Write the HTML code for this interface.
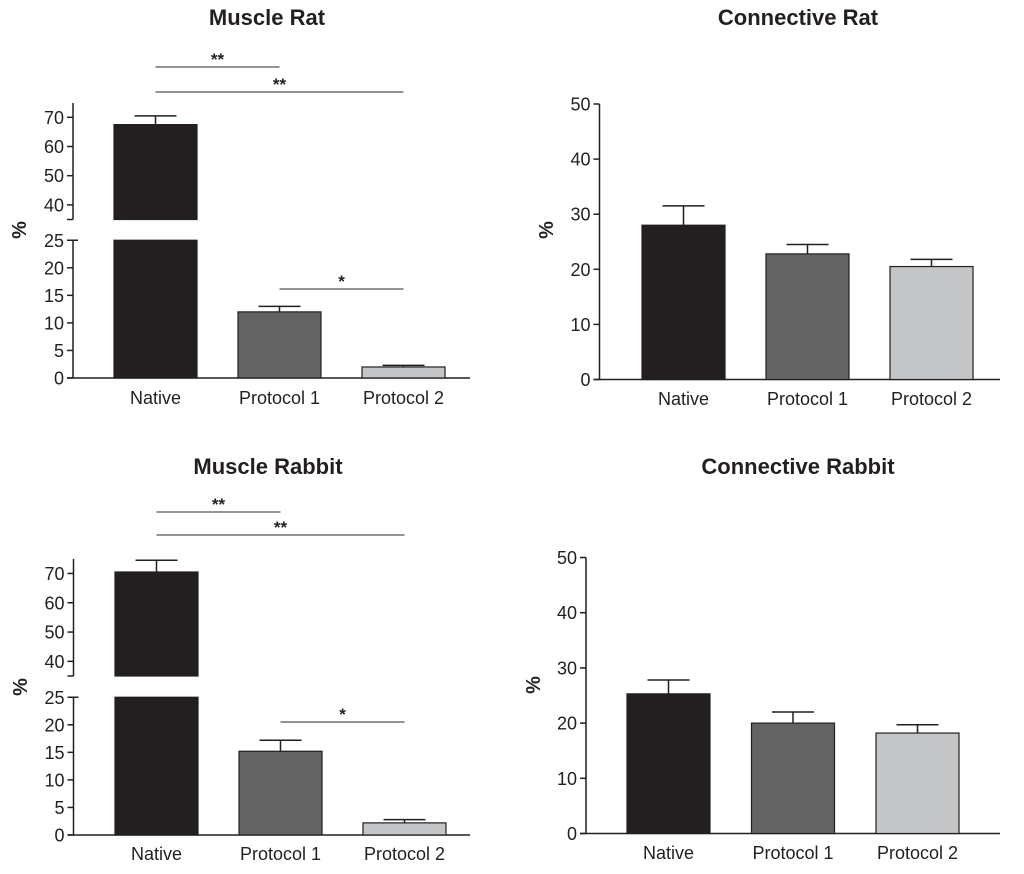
<!DOCTYPE html>
<html><head><meta charset="utf-8"><style>
html,body{margin:0;padding:0;background:#fff;}
svg{display:block;font-family:"Liberation Sans",sans-serif;}
</style></head><body>
<svg id="chart" width="1024" height="874" viewBox="0 0 1024 874" xmlns="http://www.w3.org/2000/svg"></svg>
<script>
const categories = ["Native", "Protocol 1", "Protocol 2"];
const colors = ["#231f20", "#636363", "#c3c5c7"];
const muscleRatValues = [67.5, 12, 2];
const muscleRatErrors = [3, 1, 0.3];
const connRatValues = [28, 22.8, 20.5];
const connRatErrors = [3.5, 1.7, 1.3];
const muscleRabbitValues = [70.5, 15.2, 2.2];
const muscleRabbitErrors = [4, 2, 0.6];
const connRabbitValues = [25.3, 20, 18.2];
const connRabbitErrors = [2.5, 2, 1.5];
const brokenUpperTicks = [40, 50, 60, 70];
const brokenLowerTicks = [0, 5, 10, 15, 20, 25];
const linearTicks = [0, 10, 20, 30, 40, 50];
const sigLabels = ["**", "**", "*"];

const NS = "http://www.w3.org/2000/svg";
const svg = document.getElementById("chart");
function mk(tag, attrs, parent, text) {
  const e = document.createElementNS(NS, tag);
  for (const k in attrs) e.setAttribute(k, attrs[k]);
  if (text !== undefined) e.textContent = text;
  (parent || svg).appendChild(e);
  return e;
}

function panel(cfg) {
  const g = mk("g", {});
  
  
  const t = mk("text", {x: cfg.titleX, y: cfg.titleY, "text-anchor": "middle", "font-size": 22, "font-weight": "bold", fill: "#231f20"}, g, cfg.title);
  
  
  const ax = cfg.axisX;
  const xPos = i => cfg.firstCenter + i * cfg.step;
  let yScale;
  if (cfg.broken) {
    yScale = v => v >= 30 ? cfg.upper0 - (v - 35) * cfg.upperPx : cfg.zeroY - v * cfg.lowerPx;
  } else {
    yScale = v => cfg.zeroY - v * cfg.px;
  }
  const axes = mk("g", {stroke: "#231f20", "stroke-width": 1.5, fill: "none"}, g);
  
  
  if (cfg.broken) {
    mk("line", {x1: ax, y1: cfg.upperTop, x2: ax, y2: cfg.upper0}, axes);
    mk("line", {x1: ax - 6, y1: cfg.upper0, x2: ax, y2: cfg.upper0}, axes);
    mk("line", {x1: ax, y1: yScale(25), x2: ax, y2: cfg.zeroY}, axes);
    mk("line", {x1: ax, y1: yScale(25), x2: ax + 5, y2: yScale(25)}, axes);
  } else {
    mk("line", {x1: ax, y1: yScale(50), x2: ax, y2: cfg.zeroY}, axes);
  }
  const xa = mk("line", {x1: ax - 6, y1: cfg.zeroY, x2: cfg.axisEnd, y2: cfg.zeroY, stroke: "#231f20", "stroke-width": 1.5}, g);
  
  
  const ticks = cfg.broken ? brokenUpperTicks.concat(brokenLowerTicks) : linearTicks;
  ticks.forEach(v => {
    const y = yScale(v);
    mk("line", {x1: ax - 6, y1: y, x2: ax, y2: y, stroke: "#231f20", "stroke-width": 1.5}, g);
    const tl = mk("text", {x: ax - 9, y: y + 6.5, "text-anchor": "end", "font-size": 18, fill: "#231f20"}, g, String(v));
    
    
  });
  const yl = mk("text", {x: 0, y: 0, transform: `translate(${cfg.ylabX},${cfg.ylabY}) rotate(-90)`, "text-anchor": "middle", "font-size": 20, "font-weight": "bold", fill: "#231f20"}, g, "%");
  
  
  const bw = 83;
  cfg.values.forEach((v, i) => {
    const cx = xPos(i);
    const err = v + cfg.errors[i];
    const ey = yScale(err);
    const eb = mk("g", {stroke: "#231f20", "stroke-width": 1.5}, g);
    
    
    mk("line", {x1: cx, y1: ey, x2: cx, y2: yScale(v)}, eb);
    mk("line", {x1: cx - 21, y1: ey, x2: cx + 21, y2: ey}, eb);
    if (cfg.broken && v > 30) {
      const b1 = mk("rect", {x: cx - bw / 2, y: yScale(v), width: bw, height: cfg.upper0 - yScale(v), fill: colors[i], stroke: "#231f20", "stroke-width": 1.2}, g);
      
      
      const b2 = mk("rect", {x: cx - bw / 2, y: yScale(25), width: bw, height: cfg.zeroY - yScale(25), fill: colors[i], stroke: "#231f20", "stroke-width": 1.2}, g);
      
      
    } else {
      const b = mk("rect", {x: cx - bw / 2, y: yScale(v), width: bw, height: cfg.zeroY - yScale(v), fill: colors[i], stroke: "#231f20", "stroke-width": 1.2}, g);
      
      
    }
    const cl = mk("text", {x: cx, y: cfg.labY, "text-anchor": "middle", "font-size": 18, fill: "#231f20"}, g, categories[i]);
    
    
  });
  if (cfg.sig) {
    cfg.sig.forEach((s, k) => {
      const x1 = xPos(s[0]), x2 = xPos(s[1]);
      const l = mk("line", {x1: x1, y1: s[2], x2: x2, y2: s[2], stroke: "#555", "stroke-width": 1.2}, g);
      
      
      const st = mk("text", {x: (x1 + x2) / 2, y: s[2] - 2, "text-anchor": "middle", "font-size": 17, "font-weight": "bold", fill: "#231f20"}, g, sigLabels[k]);
      
      
    });
  }
}

panel({name: "muscle-rat-panel", title: "Muscle Rat", titleX: 267, titleY: 25, broken: true,
  axisX: 73, upperTop: 103, upper0: 219.5, upperPx: 2.92, zeroY: 378, lowerPx: 5.51,
  firstCenter: 155.5, step: 124, axisEnd: 470, values: muscleRatValues, errors: muscleRatErrors,
  ylabX: 26, ylabY: 230, labY: 404, sig: [[0, 1, 67], [0, 2, 92], [1, 2, 289]]});
panel({name: "connective-rat-panel", title: "Connective Rat", titleX: 798, titleY: 25, broken: false,
  axisX: 599.5, zeroY: 379.5, px: 5.51, firstCenter: 683.5, step: 124, axisEnd: 1000,
  values: connRatValues, errors: connRatErrors, ylabX: 553, ylabY: 230, labY: 405});
panel({name: "muscle-rabbit-panel", title: "Muscle Rabbit", titleX: 268, titleY: 474, broken: true,
  axisX: 73.5, upperTop: 559, upper0: 676, upperPx: 2.93, zeroY: 835, lowerPx: 5.51,
  firstCenter: 156.5, step: 124, axisEnd: 470, values: muscleRabbitValues, errors: muscleRabbitErrors,
  ylabX: 27, ylabY: 687, labY: 860, sig: [[0, 1, 512], [0, 2, 535], [1, 2, 722]]});
panel({name: "connective-rabbit-panel", title: "Connective Rabbit", titleX: 798, titleY: 474, broken: false,
  axisX: 586, zeroY: 833.5, px: 5.52, firstCenter: 668.5, step: 124.5, axisEnd: 1000,
  values: connRabbitValues, errors: connRabbitErrors, ylabX: 540, ylabY: 685, labY: 859});
</script>
</body></html>
